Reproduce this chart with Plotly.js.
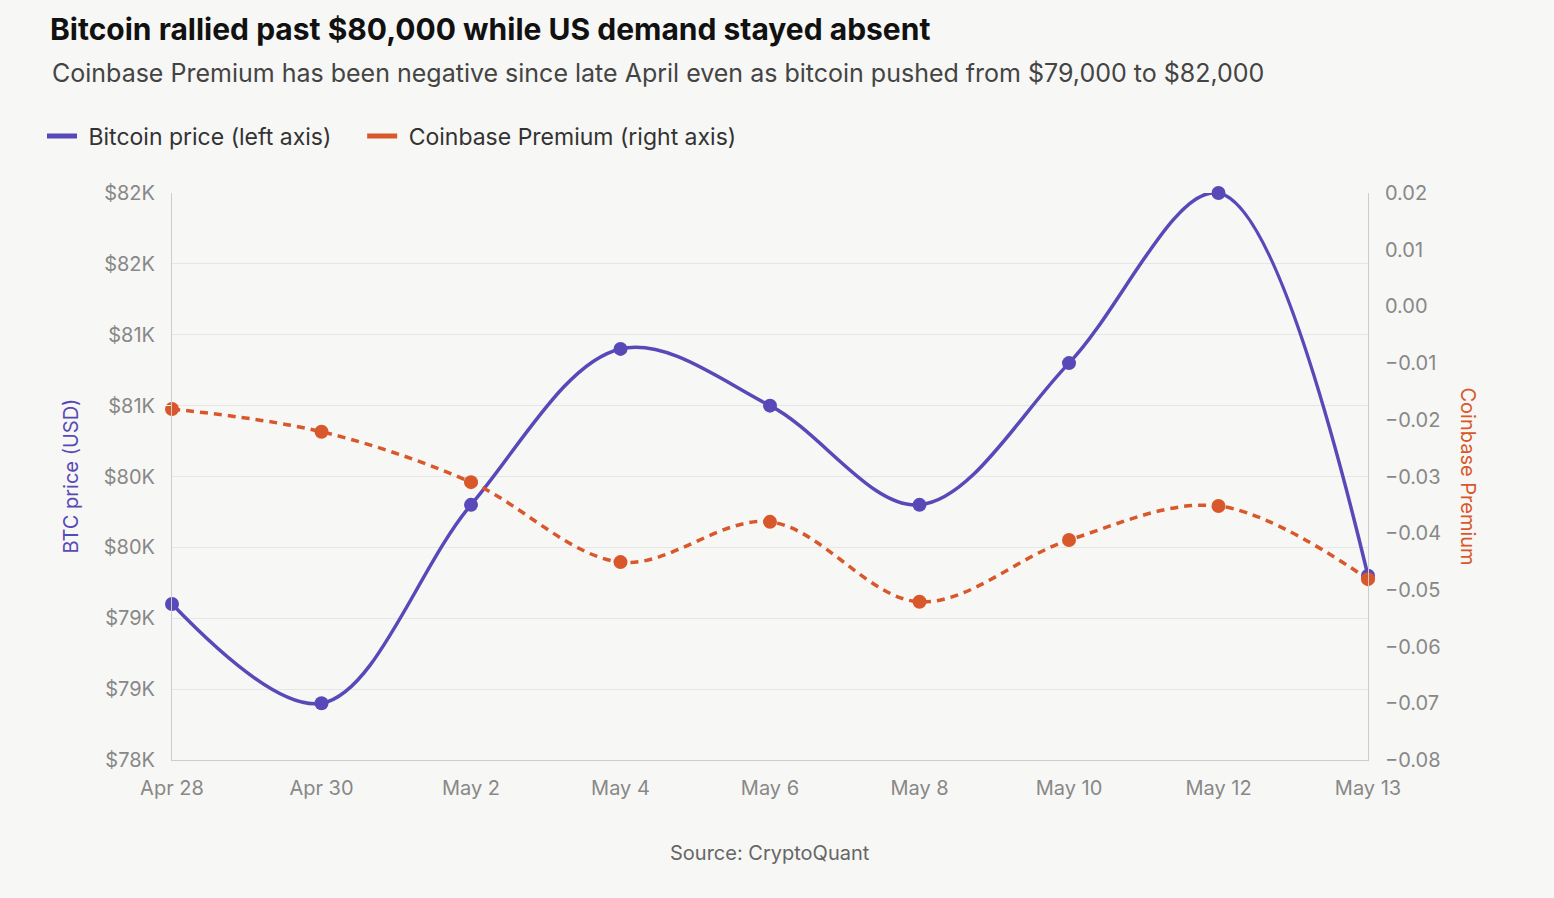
<!DOCTYPE html>
<html><head><meta charset="utf-8">
<script src="https://cdn.plot.ly/plotly-3.0.1.min.js"></script>
<style>body{margin:0;background:#f7f7f5}#myDiv{width:1554px;height:898px}</style>
</head><body><div id="myDiv"></div>
<script>
var dates = ['Apr 28', 'Apr 30', 'May 2', 'May 4', 'May 6', 'May 8', 'May 10', 'May 12', 'May 13'];
var btcPrice = [79100, 78400, 79800, 80900, 80500, 79800, 80800, 82000, 79300];
var premium = [-0.0181, -0.0221, -0.0310, -0.0451, -0.0380, -0.0521, -0.0412, -0.0352, -0.0481];
var leftTicks = [78000, 78500, 79000, 79500, 80000, 80500, 81000, 81500, 82000];
var leftLabels = ['$78K', '$79K', '$79K', '$80K', '$80K', '$81K', '$81K', '$82K', '$82K'];

var purple = '#5849b8', orange = '#d9582b';

var trace1 = {
  x: dates, y: btcPrice, name: 'Bitcoin price (left axis)', showlegend: false,
  mode: 'lines+markers', line: {color: purple, width: 3.5, shape: 'spline'},
  marker: {size: 14, color: purple}, cliponaxis: false
};
var trace2 = {
  x: dates, y: premium, name: 'Coinbase Premium (right axis)', yaxis: 'y2', showlegend: false,
  mode: 'lines+markers', line: {color: orange, width: 3.5, dash: '8px,6px', shape: 'spline'},
  marker: {size: 14, color: orange}, cliponaxis: false
};
var legend1 = {x: [null], y: [null], name: ' Bitcoin price (left axis)    ', mode: 'lines', line: {color: purple, width: 5}, showlegend: true, hoverinfo: 'skip'};
var legend2 = {x: [null], y: [null], name: ' Coinbase Premium (right axis)', mode: 'lines', line: {color: orange, width: 5}, showlegend: true, hoverinfo: 'skip'};

var layout = {
  width: 1554, height: 898,
  paper_bgcolor: '#f7f7f5', plot_bgcolor: '#f7f7f5',
  font: {family: 'Inter, "Open Sans", sans-serif', color: '#777', size: 19},
  margin: {l: 172, r: 186, t: 193, b: 138},
  title: {text: '<b>Bitcoin rallied past $80,000 while US demand stayed absent</b>', x: 50/1554, xanchor: 'left', y: 1 - 29/898, yanchor: 'middle',
    font: {size: 30, color: '#111'}},
  showlegend: true,
  legend: {orientation: 'h', x: -130/1196, xanchor: 'left', y: 1 + 57/567, yanchor: 'middle', font: {size: 23, color: '#333'}},
  xaxis: {type: 'category', range: [0, 8], showgrid: false, zeroline: false,
    ticks: 'outside', ticklen: 10, tickcolor: '#f7f7f5', tickfont: {size: 20, color: '#888'}, showline: true, linecolor: '#ccc'},
  yaxis: {range: [78000, 82000], tickvals: leftTicks, ticktext: leftLabels, gridcolor: '#e6e6e6', zeroline: false,
    showline: true, linecolor: '#ccc', ticks: 'outside', ticklen: 12, tickcolor: '#f7f7f5', tickfont: {size: 20, color: '#888'}},
  yaxis2: {overlaying: 'y', side: 'right', range: [-0.08, 0.02], dtick: 0.01, tickformat: '.2f', showgrid: false, zeroline: false,
    showline: true, linecolor: '#ccc', ticks: 'outside', ticklen: 12, tickcolor: '#f7f7f5', tickfont: {size: 20, color: '#888'}},
  annotations: [
    {text: 'Coinbase Premium has been negative since late April even as bitcoin pushed from $79,000 to $82,000', xref: 'paper', yref: 'paper',
      x: -122/1196, xanchor: 'left', y: 1 + 120/567, yanchor: 'middle', showarrow: false, font: {size: 25, color: '#444'}},
    {text: 'Source: CryptoQuant', xref: 'paper', yref: 'paper', x: 0.5, y: -93/567, yanchor: 'middle', showarrow: false,
      font: {size: 20, color: '#666'}},
    {text: 'BTC price (USD)', xref: 'paper', yref: 'paper', x: -102/1196, xanchor: 'center', y: 0.5, yanchor: 'middle', textangle: -90,
      showarrow: false, font: {size: 20, color: purple}},
    {text: 'Coinbase Premium', xref: 'paper', yref: 'paper', x: 1 + 100/1196, xanchor: 'center', y: 0.5, yanchor: 'middle', textangle: 90,
      showarrow: false, font: {size: 20, color: orange}}
  ]
};

Plotly.newPlot('myDiv', [trace1, trace2, legend1, legend2], layout, {displayModeBar: false});
</script></body></html>
